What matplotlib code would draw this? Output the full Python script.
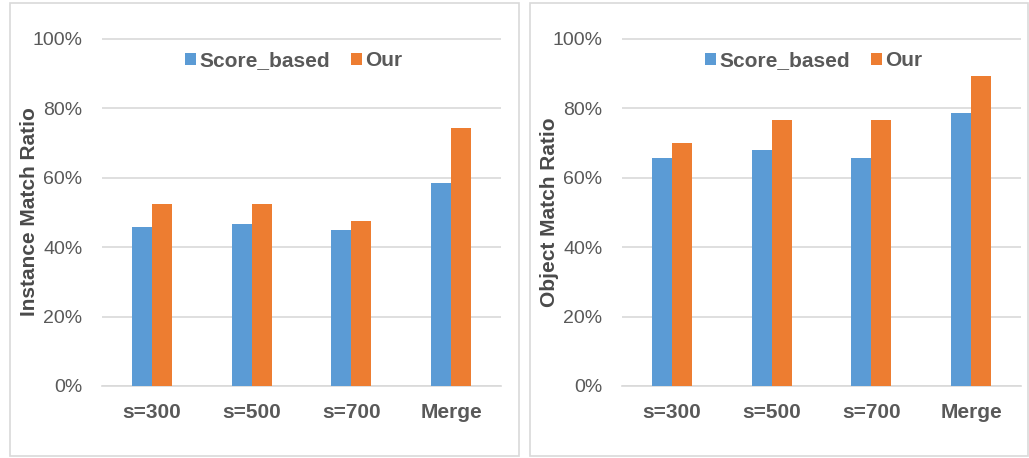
import matplotlib
matplotlib.use('Agg')
import matplotlib.pyplot as plt
import numpy as np
from matplotlib.patches import Rectangle
from matplotlib.ticker import PercentFormatter

categories = ['s=300', 's=500', 's=700', 'Merge']
series_names = ['Score_based', 'Our']

instance_score = [0.457, 0.467, 0.448, 0.584]
instance_our = [0.524, 0.524, 0.474, 0.744]

object_score = [0.658, 0.680, 0.658, 0.785]
object_our = [0.701, 0.766, 0.766, 0.893]

blue = '#5B9BD5'
orange = '#ED7D31'
grid = '#D9D9D9'
txt = '#595959'

plt.rcParams['font.family'] = ['Liberation Sans', 'DejaVu Sans']

W, H = 1029, 458
fig = plt.figure(figsize=(W / 100, H / 100), dpi=100)

# panel frames
for x0, x1 in [(10, 519), (530, 1028)]:
    fig.patches.append(Rectangle((x0 / W, 2 / H), (x1 - x0) / W, 453 / H,
                                 transform=fig.transFigure, fill=False,
                                 edgecolor=grid, linewidth=1.2))

panels = [
    (102, 'Instance Match Ratio', instance_score, instance_our),
    (622, 'Object Match Ratio', object_score, object_our),
]

x = np.arange(len(categories))
w = 0.2
for left, ylabel, s1, s2 in panels:
    ax = fig.add_axes([left / W, (H - 386) / H, 399 / W, 348.3 / H])
    ax.bar(x - w / 2, s1, w, color=blue, label=series_names[0], zorder=3)
    ax.bar(x + w / 2, s2, w, color=orange, label=series_names[1], zorder=3)
    ax.set_xlim(-0.5, 3.5)
    ax.set_ylim(0, 1.003)
    ax.set_yticks(np.arange(0, 1.01, 0.2))
    ax.yaxis.set_major_formatter(PercentFormatter(1.0, decimals=0))
    ax.set_xticks(x)
    ax.set_xticklabels(categories, fontweight='bold')
    ax.grid(axis='y', color=grid, linewidth=1.2, zorder=0)
    ax.set_axisbelow(True)
    for sp in ['top', 'right', 'left']:
        ax.spines[sp].set_visible(False)
    ax.spines['bottom'].set_color(grid)
    ax.spines['bottom'].set_linewidth(1.2)
    ax.tick_params(axis='y', length=0, pad=14, labelsize=14, labelcolor=txt)
    ax.tick_params(axis='x', length=0, pad=12, labelsize=15, labelcolor=txt)
    ax.set_ylabel(ylabel, fontsize=15, fontweight='bold', color='#4a4a4a')
    ax.yaxis.set_label_coords(-0.158, 0.5)
    ax.legend(loc='center', bbox_to_anchor=(0.48, 0.934), ncol=2, frameon=False,
              prop={'weight': 'bold', 'size': 15},
              handlelength=0.55, handleheight=0.55, handletextpad=0.15,
              columnspacing=1.0, labelcolor=txt)

fig.savefig('out.png', dpi=100, facecolor='white')
